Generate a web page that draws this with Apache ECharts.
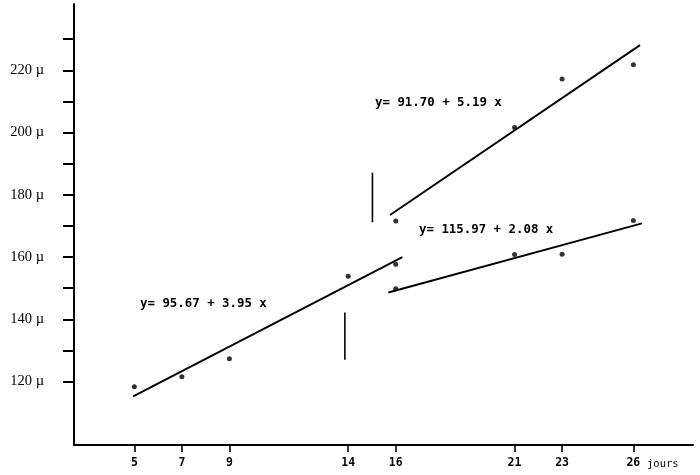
<!DOCTYPE html>
<html>
<head>
<meta charset="utf-8">
<script src="https://cdn.jsdelivr.net/npm/echarts@6/dist/echarts.min.js"></script>
<style>html,body{margin:0;padding:0;background:#fff}#c{width:700px;height:475px}</style>
</head>
<body>
<div id="c"></div>
<script>
// Observed points (days, size in µ)
const obsX = [5, 7, 9, 14, 16, 16, 16, 21, 21, 23, 23, 26, 26];
const obsY = [118.3, 121.5, 127.3, 153.8, 157.7, 149.8, 171.6, 201.6, 160.8, 217.2, 160.9, 221.8, 171.7];

// Regression lines: label, intercept, slope, x start, x end
const fitLabels = ['y= 95.67 + 3.95 x', 'y= 91.70 + 5.19 x', 'y= 115.97 + 2.08 x'];
const fitA = [95.67, 91.70, 115.97];
const fitB = [3.95, 5.19, 2.08];
const fitX0 = [4.95, 15.76, 15.69];
const fitX1 = [16.28, 26.28, 26.36];

// Short vertical marker bars
const barX = [15.02, 13.86];
const barY0 = [171.2, 127.0];
const barY1 = [187.1, 142.2];

// Axis ticks
const xTicks = [5, 7, 9, 14, 16, 21, 23, 26];
const yTicks = [120, 130, 140, 150, 160, 170, 180, 190, 200, 210, 220, 230];
const yLabels = [120, 140, 160, 180, 200, 220];

const chart = echarts.init(document.getElementById('c'));
const series = [];
for (let i = 0; i < fitA.length; i++) {
  series.push({
    type: 'line', silent: true, symbol: 'none', animation: false,
    lineStyle: {color: '#000', width: 1.9},
    data: [[fitX0[i], fitA[i] + fitB[i] * fitX0[i]], [fitX1[i], fitA[i] + fitB[i] * fitX1[i]]]
  });
}
for (let i = 0; i < barX.length; i++) {
  series.push({
    type: 'line', silent: true, symbol: 'none', animation: false,
    lineStyle: {color: '#000', width: 1.6},
    data: [[barX[i], barY0[i]], [barX[i], barY1[i]]]
  });
}
series.push({
  type: 'scatter', symbol: 'circle', symbolSize: 5, animation: false,
  itemStyle: {color: '#000'},
  data: obsX.map((x, i) => [x, obsY[i]])
});

const mono = 'DejaVu Sans Mono';
chart.setOption({
  backgroundColor: '#fff',
  animation: false,
  grid: {left: 74, right: 7, top: 4, bottom: 30},
  xAxis: {
    type: 'value', min: 2.46, max: 28.51,
    axisLine: {lineStyle: {color: '#000', width: 2}},
    splitLine: {show: false},
    axisTick: {show: true, length: 7, lineStyle: {color: '#000', width: 1.6}, customValues: xTicks},
    axisLabel: {customValues: xTicks, margin: 12, color: '#000', fontFamily: mono, fontWeight: 'bold', fontSize: 11.5}
  },
  yAxis: {
    type: 'value', min: 99.6, max: 241.3,
    axisLine: {show: true, lineStyle: {color: '#000', width: 2}},
    splitLine: {show: false},
    axisTick: {show: true, length: 11, lineStyle: {color: '#000', width: 2}, customValues: yTicks},
    axisLabel: {customValues: yLabels, margin: 30, color: '#000', fontFamily: 'Liberation Serif', fontSize: 14.5,
      formatter: v => v + ' µ'}
  },
  graphic: [
    {type: 'text', left: 375, top: 97, style: {text: fitLabels[1], font: 'bold 12.4px "DejaVu Sans Mono"', fill: '#000'}},
    {type: 'text', left: 140, top: 298, style: {text: fitLabels[0], font: 'bold 12.4px "DejaVu Sans Mono"', fill: '#000'}},
    {type: 'text', left: 419, top: 224, style: {text: fitLabels[2], font: 'bold 12.4px "DejaVu Sans Mono"', fill: '#000'}},
    {type: 'text', left: 647, top: 459, style: {text: 'jours', font: '10.5px "DejaVu Sans Mono"', fill: '#000'}}
  ],
  series: series
});
</script>
</body>
</html>
